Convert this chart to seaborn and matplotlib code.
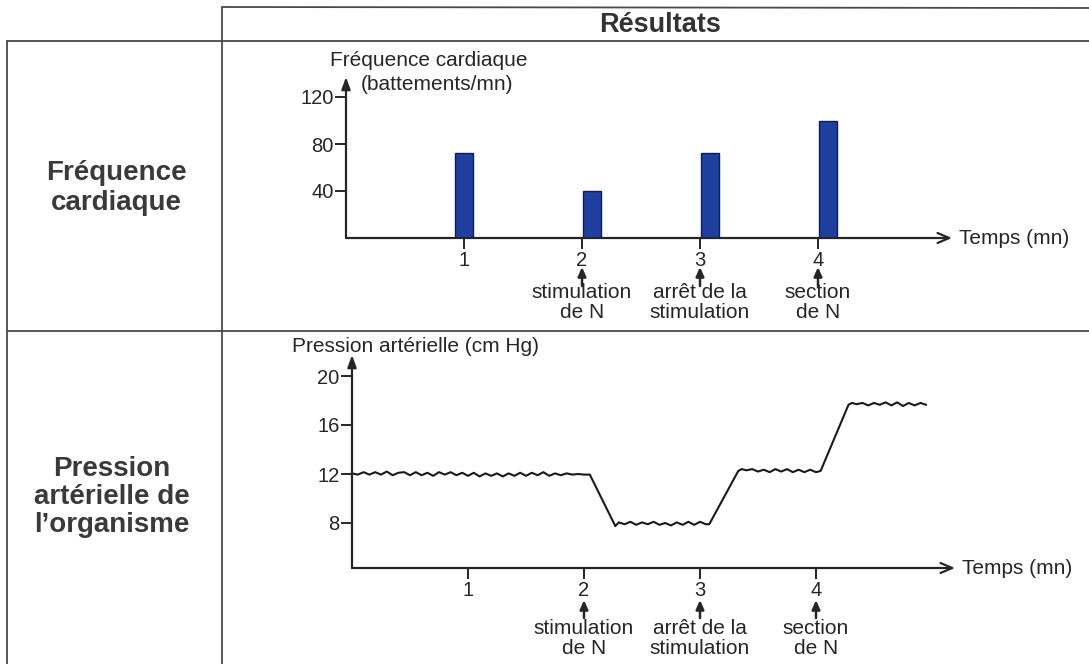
import numpy as np
import pandas as pd
import matplotlib
matplotlib.use("Agg")
import matplotlib.pyplot as plt
from matplotlib.lines import Line2D
from matplotlib.transforms import offset_copy
import seaborn as sns

# heart rate (bars)
hr_time = [1, 2, 3, 4]
hr_values = [72, 40, 72, 100]
hr_yticks = [40, 80, 120]

# blood pressure trace (cm Hg)
bp_time = [0.00, 0.05, 0.10, 0.15, 0.20, 0.25, 0.30, 0.35, 0.40, 0.45,
           0.50, 0.55, 0.60, 0.65, 0.70, 0.75, 0.80, 0.85, 0.90, 0.95,
           1.00, 1.05, 1.10, 1.15, 1.20, 1.25, 1.30, 1.35, 1.40, 1.45,
           1.50, 1.55, 1.60, 1.65, 1.70, 1.75, 1.80, 1.85, 1.90, 1.95,
           2.00, 2.05, 2.27,
           2.30, 2.35, 2.40, 2.45, 2.50, 2.55, 2.60, 2.65, 2.70, 2.75,
           2.80, 2.85, 2.90, 2.95, 3.00, 3.05, 3.08, 3.33,
           3.36, 3.40, 3.45, 3.50, 3.55, 3.60, 3.65, 3.70, 3.75, 3.80,
           3.85, 3.90, 3.95, 4.00, 4.04, 4.28,
           4.31, 4.35, 4.40, 4.45, 4.50, 4.55, 4.60, 4.65, 4.70, 4.75,
           4.80, 4.85, 4.90, 4.95]
bp_values = [12.05, 11.95, 12.15, 11.95, 12.15, 11.95, 12.20, 11.90, 12.10, 12.15,
             11.90, 12.15, 11.90, 12.10, 11.85, 12.15, 11.95, 12.15, 11.90, 12.10,
             11.85, 12.10, 11.80, 12.05, 11.85, 12.05, 11.80, 12.05, 11.85, 12.10,
             11.85, 12.10, 11.90, 12.15, 11.85, 12.05, 11.90, 12.05, 11.95, 12.00,
             11.95, 11.95, 7.75,
             8.05, 7.90, 8.10, 7.85, 8.05, 7.90, 8.10, 7.85, 8.00, 7.80,
             8.05, 7.85, 8.10, 7.85, 8.10, 7.90, 7.90, 12.25,
             12.40, 12.30, 12.40, 12.20, 12.35, 12.15, 12.40, 12.20, 12.40, 12.15,
             12.35, 12.15, 12.35, 12.15, 12.25, 17.65,
             17.80, 17.70, 17.80, 17.60, 17.80, 17.65, 17.85, 17.60, 17.85, 17.55,
             17.80, 17.60, 17.80, 17.65]
bp_yticks = [8, 12, 16, 20]

x_ticks = [1, 2, 3, 4]
event_ticks = [2, 3, 4]
event_labels = ["stimulation\nde N", "arrêt de la\nstimulation", "section\nde N"]

header = "Résultats"
row1_label = "Fréquence\ncardiaque"
row2_label = "Pression\nartérielle de\nl’organisme"
hr_ylabel1 = "Fréquence cardiaque"
hr_ylabel2 = "(battements/mn)"
bp_ylabel = "Pression artérielle (cm Hg)"
x_label = "Temps (mn)"

# styles
bar_shift = [0.0, 0.085, 0.085, 0.085]
bar_color = "#1f3f9f"
ink = "#262626"
grid_ink = "#4a4a4a"

sns.set_theme(style="white")
plt.rcParams["font.family"] = ["Liberation Sans", "DejaVu Sans"]

W, H = 1089, 664
fig = plt.figure(figsize=(W / 100, H / 100), dpi=100)
fig.patch.set_facecolor("white")


def fx(px):
    return px / W


def fy(py):
    return 1 - py / H


def line(x0, y0, x1, y1):
    fig.add_artist(Line2D([fx(x0), fx(x1)], [fy(y0), fy(y1)], transform=fig.transFigure,
                          color=grid_ink, lw=1.3))


# table frame
line(222, 7, 1089, 8)
line(222, 7, 222, 664)
line(7, 41, 1089, 41)
line(7, 41, 7, 664)
line(7, 331, 1089, 331)

fig.text(fx(660), fy(25), header, ha="center", va="center", fontsize=19.5,
         fontweight="bold", color="#333333")
fig.text(fx(116), fy(188), row1_label, ha="center", va="center", fontsize=20,
         fontweight="bold", color="#3a3a3a", linespacing=1.15)
fig.text(fx(112), fy(497), row2_label, ha="center", va="center", fontsize=20,
         fontweight="bold", color="#3a3a3a", linespacing=1.1)


def style_axes(ax, xmax, ylo, yhi, yticks):
    ax.set_xlim(0, xmax)
    ax.set_ylim(ylo, yhi)
    for s in ax.spines.values():
        s.set_visible(False)
    ax.set_xticks(x_ticks)
    ax.set_yticks(yticks)
    ax.set_xlabel("")
    ax.set_ylabel("")
    ax.patch.set_alpha(0)
    ax.tick_params(axis="both", bottom=True, left=True, direction="out", length=8,
                   width=1.4, color=ink, labelsize=14.5, labelcolor=ink, pad=1)
    ax.annotate("", xy=(1, 0), xytext=(0, 0), xycoords="axes fraction",
                arrowprops=dict(arrowstyle="->,head_length=0.7,head_width=0.3",
                                color=ink, lw=1.6, shrinkA=0, shrinkB=0))
    ax.annotate("", xy=(0, 1), xytext=(0, 0), xycoords="axes fraction",
                arrowprops=dict(arrowstyle="-|>,head_length=0.6,head_width=0.22",
                                color=ink, lw=1.6, shrinkA=0, shrinkB=0))
    ax.text(1.012, 0, x_label, transform=ax.transAxes, ha="left", va="center",
            fontsize=15, color=ink)


def events(ax, text_off, tip_off, tail_off):
    base = ax.get_xaxis_transform()
    tip_tr = offset_copy(base, fig=fig, x=0, y=-tip_off, units="dots")
    tail_tr = offset_copy(base, fig=fig, x=0, y=-tail_off, units="dots")
    text_tr = offset_copy(base, fig=fig, x=0, y=-text_off, units="dots")
    for t, lab in zip(event_ticks, event_labels):
        ax.annotate("", xy=(t, 0), xycoords=tip_tr, xytext=(t, 0), textcoords=tail_tr,
                    arrowprops=dict(arrowstyle="-|>,head_length=0.45,head_width=0.2",
                                    color=ink, lw=1.8, shrinkA=0, shrinkB=0))
        ax.text(t, 0, lab, transform=text_tr, ha="center", va="top", fontsize=15,
                color=ink, linespacing=1.1)


# top panel: heart rate bars
ax1 = fig.add_axes([fx(346), fy(238), fx(952) - fx(346), (238 - 77) / H])
df_hr = pd.DataFrame({"time": hr_time, "rate": hr_values})
df_hr["pos"] = df_hr["time"] + np.array(bar_shift)
sns.barplot(data=df_hr, x="pos", y="rate", native_scale=True, width=0.145,
            color=bar_color, saturation=1, edgecolor="#0c1c5e", linewidth=1.0, ax=ax1)
style_axes(ax1, (952 - 346) / 118, 0, (238 - 77) / 47 * 40, hr_yticks)
ax1.set_xticklabels([str(t) for t in x_ticks])
events(ax1, 45, 29, 48)
fig.text(fx(330), fy(60), hr_ylabel1, ha="left", va="center", fontsize=15, color=ink)
fig.text(fx(361), fy(84), hr_ylabel2, ha="left", va="center", fontsize=15, color=ink)

# bottom panel: blood pressure trace
ax2 = fig.add_axes([fx(352), fy(568), fx(955) - fx(352), (568 - 355) / H])
df_bp = pd.DataFrame({"time": bp_time, "pressure": bp_values})
sns.lineplot(data=df_bp, x="time", y="pressure", estimator=None, sort=False,
             color="#1a1a1a", lw=1.5, ax=ax2)
style_axes(ax2, (955 - 352) / 116, 8 - 45 / 12.25, 8 + 168 / 12.25, bp_yticks)
ax2.set_xticklabels([str(t) for t in x_ticks])
events(ax2, 51, 32, 50)
fig.text(fx(292), fy(346), bp_ylabel, ha="left", va="center", fontsize=15, color=ink)

fig.savefig("out.png", dpi=100, facecolor="white")
